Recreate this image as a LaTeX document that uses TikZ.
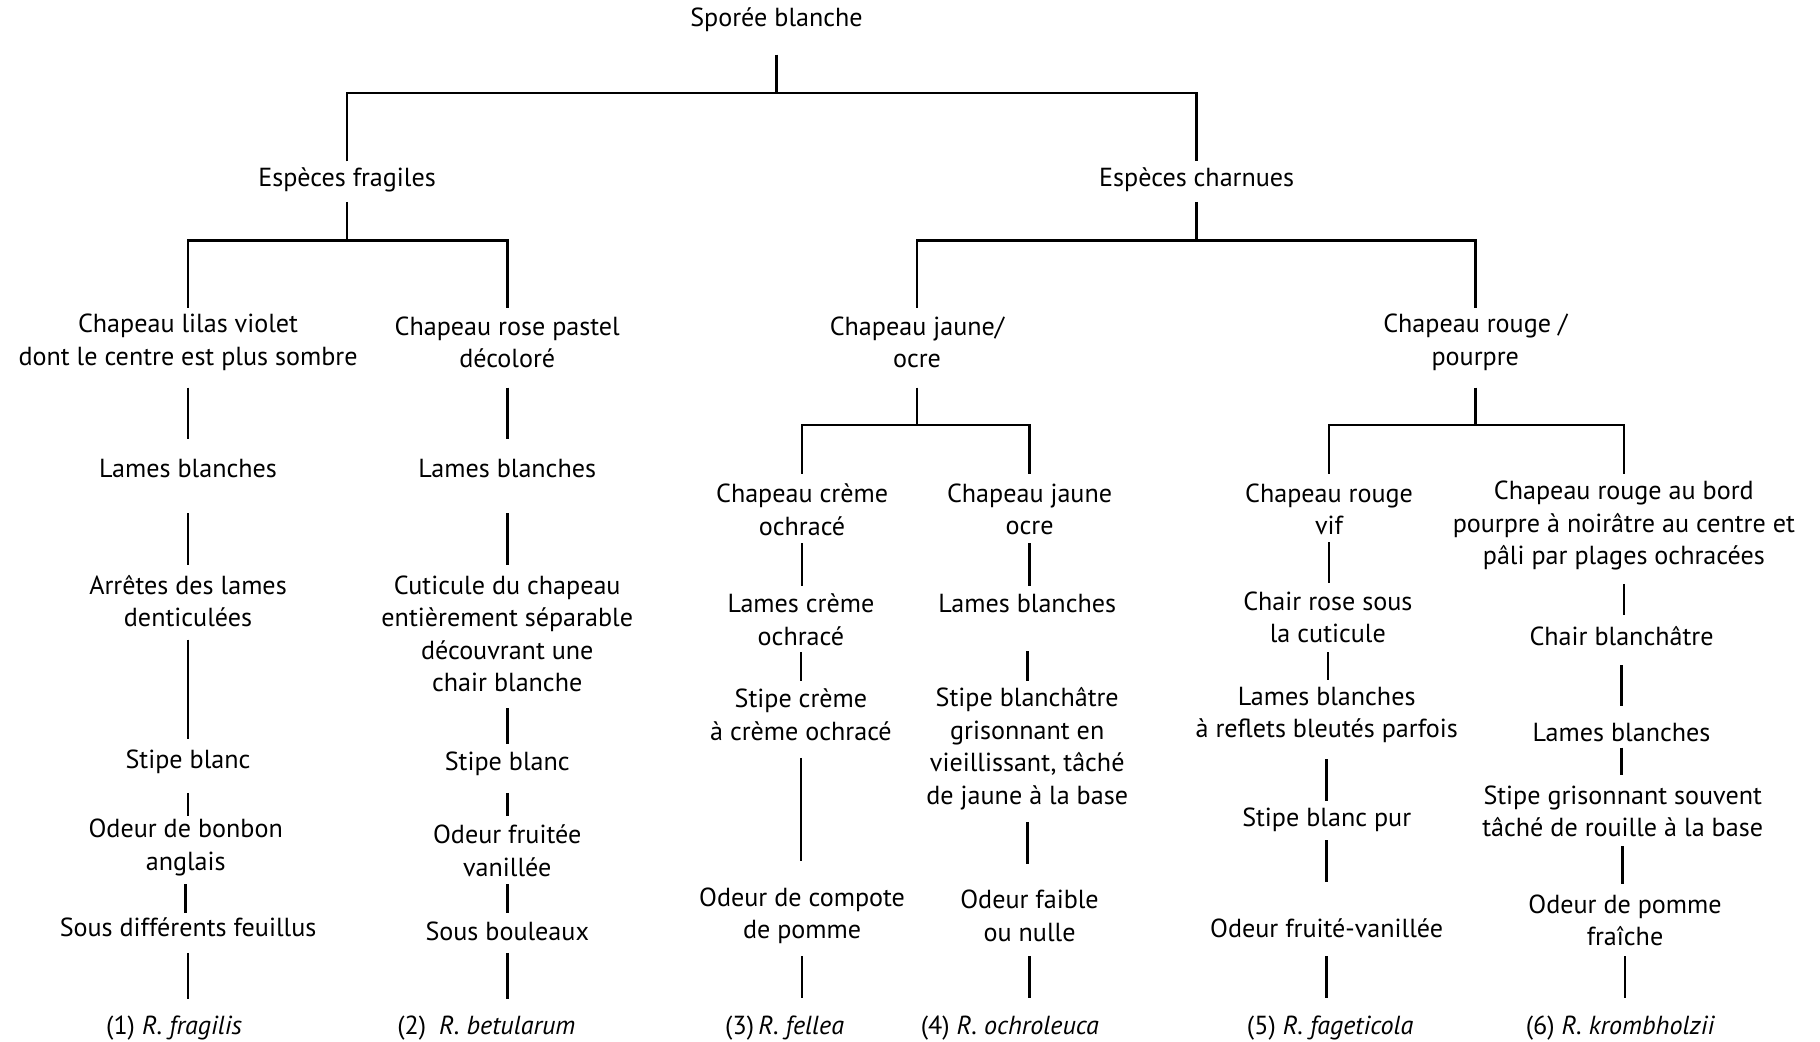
\documentclass[tikz,border=0pt]{standalone}
\usepackage{fontspec}
\setmainfont{PT Sans}
\usetikzlibrary{calc}
\tikzset{
  lbl/.style={align=center, inner sep=0pt, font=\fontsize{11.25}{14}\selectfont},
  conn/.style={line width=1.1pt, black},
}
\newcommand\vcon[4]{\draw[conn] ($(#1)+(0,#3)$) -- ($(#1 |- #2)+(0,#4)$);}
\newcommand\branchto[7]{%
  \draw[conn] ($(#1)+(0,#4)$) -- ($(#1)+(0,#5)$);
  \draw[conn] ($(#2)+(0,#6)$) |- ($(#1)+(0,#5)$) -| ($(#3)+(0,#7)$);}
\begin{document}
\begin{tikzpicture}[x=0.5pt,y=-0.5pt]
\useasboundingbox (0,0) rectangle (1568,897);
% level 0-1
\node[lbl] (root) at (669,17) {Sporée blanche};
\node[lbl] (fr) at (299,155) {Espèces fragiles};
\node[lbl] (ch) at (1031,155) {Espèces charnues};
% level 2
\node[lbl] (a0) at (162,295) {Chapeau lilas violet\\dont le centre est plus sombre};
\node[lbl] (b0) at (437,295) {Chapeau rose pastel\\décoloré};
\node[lbl] (c0) at (790,295) {Chapeau jaune/\\ocre};
\node[lbl] (d0) at (1271,295) {Chapeau rouge /\\pourpre};
% column A
\node[lbl] (a1) at (162,404) {Lames blanches};
\node[lbl] (a2) at (162,518) {Arrêtes des lames\\denticulées};
\node[lbl] (a3) at (162,656) {Stipe blanc};
\node[lbl] (a4) at (160,730) {Odeur de bonbon\\anglais};
\node[lbl] (a5) at (162,799) {Sous différents feuillus};
\node[lbl] (a6) at (150,886) {(1) \textit{R. fragilis}};
% column B
\node[lbl] (b1) at (437,404) {Lames blanches};
\node[lbl] (b2) at (437,546) {Cuticule du chapeau\\entièrement séparable\\découvrant une\\chair blanche};
\node[lbl] (b3) at (437,658) {Stipe blanc};
\node[lbl] (b4) at (437,733) {Odeur fruitée\\vanillée};
\node[lbl] (b5) at (437,802) {Sous bouleaux};
\node[lbl] (b6) at (419,886) {(2)\enspace\textit{R. betularum}};
% column C1
\node[lbl] (c1) at (691,439) {Chapeau crème\\ochracé};
\node[lbl] (c2) at (690,534) {Lames crème\\ochracé};
\node[lbl] (c3) at (690,616) {Stipe crème\\à crème ochracé};
\node[lbl] (c4) at (691,789) {Odeur de compote\\de pomme};
\node[lbl] (c5) at (676,886) {(3)\,\textit{R. fellea}};
% column C2
\node[lbl] (e1) at (887,439) {Chapeau jaune\\ocre};
\node[lbl] (e2) at (885,520) {Lames blanches};
\node[lbl] (e3) at (885,645) {Stipe blanchâtre\\grisonnant en\\vieillissant, tâché\\de jaune à la base};
\node[lbl] (e4) at (887,789) {Odeur faible\\ou nulle};
\node[lbl] (e5) at (870,886) {(4) \textit{R. ochroleuca}};
% column D1
\node[lbl] (f1) at (1145,439) {Chapeau rouge\\vif};
\node[lbl] (f2) at (1144,532) {Chair rose sous\\la cuticule};
\node[lbl] (f3) at (1143,616) {Lames blanches\\à reflets bleutés parfois};
\node[lbl] (f4) at (1143,706) {Stipe blanc pur};
\node[lbl] (f5) at (1143,800) {Odeur fruité-vanillée};
\node[lbl] (f6) at (1146,886) {(5) \textit{R. fageticola}};
% column D2
\node[lbl] (g1) at (1399,453) {Chapeau rouge au bord\\pourpre à noirâtre au centre et\\pâli par plages ochracées};
\node[lbl] (g2) at (1397,548) {Chair blanchâtre};
\node[lbl] (g3) at (1397,631) {Lames blanches};
\node[lbl] (g4) at (1398,699) {Stipe grisonnant souvent\\tâché de rouille à la base};
\node[lbl] (g5) at (1400,793) {Odeur de pomme\\fraîche};
\node[lbl] (g6) at (1396,886) {(6) \textit{R. krombholzii}};
% branches
\branchto{root}{fr}{ch}{30}{63}{-16}{-16}
\branchto{fr}{a0}{b0}{19}{52}{-30}{-30}
\branchto{ch}{c0}{d0}{19}{52}{-30}{-30}
\branchto{c0}{c1}{e1}{39}{71}{-31}{-31}
\branchto{d0}{f1}{g1}{39}{71}{-31}{-45}
% column A
\vcon{a0}{a1}{39}{-26}
\vcon{a1}{a2}{38}{-31}
\vcon{a2}{a3}{33}{-19}
\vcon{a3}{a4}{27}{-27}
\vcon{a4}{a5}{32}{-12}
\vcon{a5}{a6}{22}{-25}
% column B
\vcon{b0}{b1}{39}{-26}
\vcon{b1}{b2}{38}{-59}
\vcon{b2}{b3}{64}{-17}
\vcon{b3}{b4}{25}{-30}
\vcon{b4}{b5}{29}{-15}
\vcon{b5}{b6}{19}{-25}
% column C1
\vcon{c1}{c2}{29}{-29}
\vcon{c2}{c3}{28}{-29}
\vcon{c3}{c4}{37}{-47}
\vcon{c4}{c5}{35}{-26}
% column C2
\vcon{e1}{e2}{29}{-15}
\vcon{e2}{e3}{41}{-58}
\vcon{e3}{e4}{63}{-45}
\vcon{e4}{e5}{35}{-26}
% column D1
\vcon{f1}{f2}{28}{-30}
\vcon{f2}{f3}{30}{-30}
\vcon{f3}{f4}{38}{-16}
\vcon{f4}{f5}{18}{-40}
\vcon{f5}{f6}{24}{-26}
% column D2
\vcon{g1}{g2}{50}{-18}
\vcon{g2}{g3}{25}{-23}
\vcon{g3}{g4}{13}{-31}
\vcon{g4}{g5}{30}{-31}
\vcon{g5}{g6}{31}{-26}
\end{tikzpicture}
\end{document}
